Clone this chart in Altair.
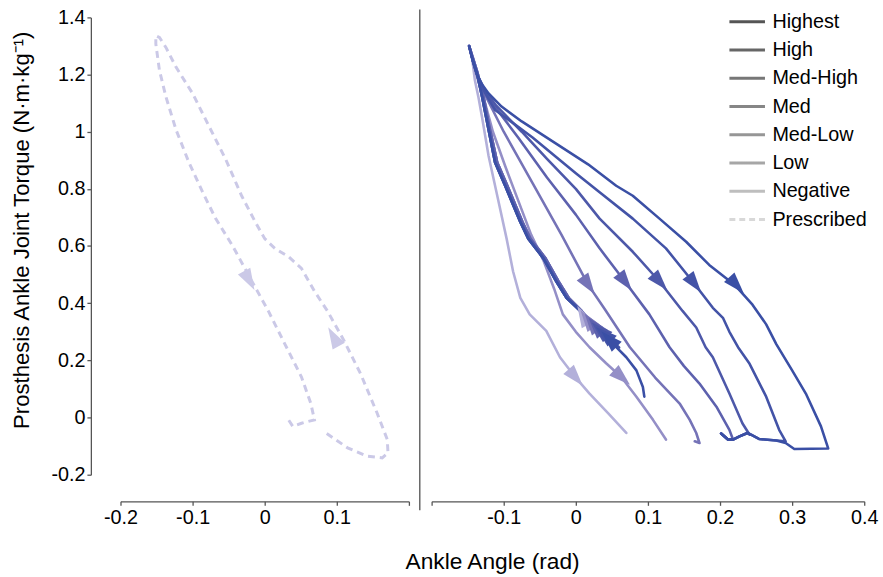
import math
import altair as alt
import pandas as pd

# ---------------- labels, colours ----------------
series_names = ["Highest", "High", "Med-High", "Med", "Med-Low", "Low", "Negative"]
series_colors = ["#3a4fa5", "#4353a7", "#4d58a9", "#5d61ae", "#7573b7", "#948fc7", "#b3b0da"]
legend_names = series_names + ["Prescribed"]
legend_grays = ["#555555", "#666666", "#777777", "#868686", "#969696", "#a6a6a6", "#bebebe", "#d8d8d8"]
prescribed_color = "#cbc9e7"

x_ticks_left = [-0.2, -0.1, 0, 0.1, 0.2]
x_ticks_right = [-0.2, -0.1, 0, 0.1, 0.2, 0.3, 0.4]
y_ticks = [-0.2, 0, 0.2, 0.4, 0.6, 0.8, 1, 1.2, 1.4]

# ---------------- left panel: prescribed loop ----------------
prescribed_x = [0.086, 0.115, 0.142, 0.163, 0.171, 0.170, 0.156, 0.133, 0.110, 0.087, 0.069, 0.051,
                0.033, 0.014, 0.000, -0.013, -0.032, -0.054, -0.077, -0.100, -0.123, -0.137, -0.146,
                -0.151, -0.151, -0.146, -0.137, -0.123, -0.105, -0.086, -0.068, -0.045, -0.018, 0.005,
                0.028, 0.051, 0.064, 0.069, 0.051, 0.039, 0.033]
prescribed_y = [-0.056, -0.106, -0.135, -0.141, -0.124, -0.077, 0.015, 0.153, 0.269, 0.373, 0.442, 0.522,
                0.563, 0.592, 0.626, 0.684, 0.776, 0.903, 1.018, 1.134, 1.226, 1.295, 1.330,
                1.336, 1.307, 1.215, 1.122, 1.007, 0.892, 0.788, 0.696, 0.603, 0.478, 0.373,
                0.257, 0.142, 0.049, -0.008, -0.020, -0.031, -0.008]
prescribed_arrow_x = [-0.022, 0.096]
prescribed_arrow_y = [0.482, 0.280]

# ---------------- right panel: measured loops ----------------
# rising branch (from heel region up to peak torque): darker loops / lighter loops
bundle_x = [0.006, -0.013, -0.027, -0.045, -0.066, -0.077, -0.098, -0.112, -0.121, -0.130, -0.137, -0.144, -0.148]
bundle_light_x = [0.008, -0.010, -0.024, -0.042, -0.063, -0.074, -0.095, -0.109, -0.119, -0.128, -0.136, -0.143, -0.148]
bundle_y = [0.373, 0.419, 0.476, 0.557, 0.626, 0.684, 0.811, 0.892, 1.007, 1.122, 1.203, 1.260, 1.300]
light_loops = ["Med", "Med-Low", "Low", "Negative"]

start_x = {
    "Highest": [0.095, 0.093, 0.084, 0.070, 0.052, 0.029],
    "High": [0.060, 0.045, 0.029],
    "Med-High": [0.050, 0.038, 0.025],
    "Med": [0.042, 0.030, 0.020],
    "Med-Low": [0.035, 0.022],
    "Low": [0.028, 0.015],
    "Negative": [0.020, 0.010],
}
start_y = {
    "Highest": [0.073, 0.107, 0.165, 0.211, 0.257, 0.315],
    "High": [0.245, 0.280, 0.315],
    "Med-High": [0.265, 0.295, 0.325],
    "Med": [0.280, 0.310, 0.340],
    "Med-Low": [0.290, 0.325],
    "Low": [0.300, 0.345],
    "Negative": [0.310, 0.355],
}
down_x = {
    "Highest": [-0.143, -0.137, -0.130, -0.121, -0.103, -0.075, -0.029, 0.017, 0.056, 0.079, 0.116, 0.153,
                0.185, 0.220, 0.245, 0.264, 0.278, 0.300, 0.319, 0.340, 0.350,
                0.303, 0.291, 0.278, 0.254, 0.243, 0.238, 0.227, 0.218, 0.211, 0.2015],
    "High": [-0.143, -0.137, -0.129, -0.120, -0.112, -0.087, -0.060, -0.029, 0.000, 0.033, 0.079, 0.125,
             0.162, 0.190, 0.204, 0.213, 0.225, 0.241, 0.264, 0.282, 0.291,
             0.278, 0.254, 0.243, 0.238, 0.227, 0.218, 0.211, 0.2015],
    "Med-High": [-0.143, -0.137, -0.128, -0.110, -0.075, -0.040, 0.000, 0.033, 0.079, 0.116, 0.148, 0.167,
                 0.180, 0.190, 0.213, 0.231, 0.241,
                 0.238, 0.227, 0.218, 0.211, 0.2015],
    "Med": [-0.143, -0.137, -0.128, -0.110, -0.080, -0.040, 0.000, 0.033, 0.068, 0.102, 0.130, 0.150,
            0.1715, 0.195, 0.213, 0.218, 0.211, 0.2015],
    "Med-Low": [-0.143, -0.137, -0.128, -0.100, -0.060, -0.020, 0.017, 0.040, 0.075, 0.110, 0.144, 0.158,
                0.167, 0.1715, 0.165],
    "Low": [-0.143, -0.138, -0.128, -0.115, -0.098, -0.080, -0.062, -0.045, -0.030, -0.018, 0.000, 0.019,
            0.042, 0.063, 0.084, 0.107, 0.125],
    "Negative": [-0.144, -0.140, -0.135, -0.130, -0.121, -0.107, -0.096, -0.087, -0.077, -0.064, -0.041,
                 -0.022, -0.001, 0.019, 0.045, 0.070],
}
down_y = {
    "Highest": [1.250, 1.200, 1.165, 1.134, 1.088, 1.036, 0.961, 0.886, 0.811, 0.776, 0.696, 0.615,
                0.534, 0.465, 0.395, 0.326, 0.257, 0.165, 0.084, -0.031, -0.108,
                -0.110, -0.089, -0.080, -0.075, -0.060, -0.054, -0.066, -0.077, -0.077, -0.056],
    "High": [1.250, 1.200, 1.150, 1.110, 1.076, 1.030, 0.980, 0.915, 0.855, 0.788, 0.696, 0.592,
             0.476, 0.384, 0.349, 0.300, 0.246, 0.188, 0.073, -0.043, -0.083,
             -0.080, -0.075, -0.060, -0.054, -0.066, -0.077, -0.077, -0.056],
    "Med-High": [1.250, 1.200, 1.150, 1.090, 1.000, 0.905, 0.800, 0.696, 0.580, 0.476, 0.373, 0.315,
                 0.246, 0.211, 0.084, -0.020, -0.060,
                 -0.054, -0.066, -0.077, -0.077, -0.056],
    "Med": [1.250, 1.200, 1.155, 1.080, 0.980, 0.840, 0.710, 0.592, 0.476, 0.361, 0.246, 0.180,
            0.119, 0.038, -0.043, -0.077, -0.077, -0.056],
    "Med-Low": [1.250, 1.200, 1.140, 1.000, 0.820, 0.640, 0.465, 0.380, 0.246, 0.140, 0.049, -0.008,
                -0.054, -0.089, -0.083],
    "Low": [1.250, 1.200, 1.120, 1.000, 0.880, 0.760, 0.640, 0.550, 0.450, 0.361, 0.300, 0.246,
            0.190, 0.142, 0.073, -0.008, -0.077],
    "Negative": [1.260, 1.180, 1.120, 1.050, 0.915, 0.753, 0.626, 0.511, 0.419, 0.361, 0.303,
                 0.211, 0.142, 0.084, 0.015, -0.054],
}
up_arrow_x = {"Highest": 0.047, "High": 0.040, "Med-High": 0.034, "Med": 0.028,
              "Med-Low": 0.022, "Low": 0.016, "Negative": 0.010}
up_arrow_y = {"Highest": 0.272, "High": 0.290, "Med-High": 0.305, "Med": 0.318,
              "Med-Low": 0.330, "Low": 0.342, "Negative": 0.355}
down_arrow_x = {"Highest": 0.222, "High": 0.164, "Med-High": 0.116, "Med": 0.068,
                "Med-Low": 0.017, "Low": 0.063, "Negative": -0.001}
down_arrow_y = {"Highest": 0.465, "High": 0.470, "Med-High": 0.476, "Med": 0.476,
                "Med-Low": 0.465, "Low": 0.142, "Negative": 0.142}

# ---------------- geometry ----------------
W_LEFT, W_RIGHT, H = 292, 438, 463
X_LEFT_DOMAIN = [-0.2, 0.2]
X_RIGHT_DOMAIN = [-0.2, 0.4]
Y_DOMAIN = [-0.2, 1.4]
SX = W_LEFT / (X_LEFT_DOMAIN[1] - X_LEFT_DOMAIN[0])
SY = H / (Y_DOMAIN[1] - Y_DOMAIN[0])
ARROW = "M0,-1L0.6,0.85L-0.6,0.85Z"
ARROW_SIZE = 560
FONT = "Liberation Sans"


def seg_angle(xs, ys, ax, ay):
    best = None
    px, py = ax * SX, -ay * SY
    for k in range(len(xs) - 1):
        x0, y0 = xs[k] * SX, -ys[k] * SY
        x1, y1 = xs[k + 1] * SX, -ys[k + 1] * SY
        dx, dy = x1 - x0, y1 - y0
        l2 = dx * dx + dy * dy
        if l2 == 0:
            continue
        t = max(0.0, min(1.0, ((px - x0) * dx + (py - y0) * dy) / l2))
        d = (x0 + t * dx - px) ** 2 + (y0 + t * dy - py) ** 2
        if best is None or d < best[0]:
            best = (d, dx, dy)
    _, dx, dy = best
    return math.degrees(math.atan2(dx, -dy)) % 360


# prescribed frames
pres_df = pd.DataFrame({"x": prescribed_x, "y": prescribed_y, "i": range(len(prescribed_x))})
pres_arrow_df = pd.DataFrame({
    "x": prescribed_arrow_x, "y": prescribed_arrow_y,
    "angle": [seg_angle(prescribed_x, prescribed_y, ax, ay)
              for ax, ay in zip(prescribed_arrow_x, prescribed_arrow_y)],
})

# measured frames
curve_frames = {}
arrow_rows = []
for name, col in zip(series_names, series_colors):
    bx = bundle_light_x if name in light_loops else bundle_x
    sx_part = start_x[name] + bx
    sy_part = start_y[name] + bundle_y
    xs = sx_part + down_x[name]
    ys = sy_part + down_y[name]
    curve_frames[name] = pd.DataFrame({"x": xs, "y": ys, "i": range(len(xs)), "color": col})
    arrow_rows.append({"x": up_arrow_x[name], "y": up_arrow_y[name], "color": col,
                       "angle": seg_angle(sx_part, sy_part, up_arrow_x[name], up_arrow_y[name])})
    dxs = [bx[-1]] + down_x[name]
    dys = [bundle_y[-1]] + down_y[name]
    arrow_rows.append({"x": down_arrow_x[name], "y": down_arrow_y[name], "color": col,
                       "angle": seg_angle(dxs, dys, down_arrow_x[name], down_arrow_y[name])})
# lightest first so the darkest arrows sit on top
arrow_df = pd.DataFrame(arrow_rows[::-1])

legend_df = pd.DataFrame({"series": legend_names, "x": [0.0] * len(legend_names), "y": [0.0] * len(legend_names)})

# ---------------- encodings ----------------
axis_common = dict(grid=False, domainColor="#555555", tickColor="#555555", domainWidth=1.3, tickWidth=1.3,
                   tickSize=4, labelFont=FONT, labelFontSize=20, labelColor="black", labelPadding=2,
                   labelFlush=False)

x_left = alt.X("x:Q", scale=alt.Scale(domain=X_LEFT_DOMAIN, nice=False, zero=False),
               axis=alt.Axis(values=x_ticks_left, offset=27, title=None,
                             labelExpr="datum.value > 0.15 ? '' : toString(datum.value)", **axis_common))
y_left = alt.Y("y:Q", scale=alt.Scale(domain=Y_DOMAIN, nice=False, zero=False),
               axis=alt.Axis(values=y_ticks, offset=30, labelExpr="toString(datum.value)",
                             title="Prosthesis Ankle Joint Torque (N·m·kg⁻¹)", titleFont=FONT,
                             titleFontSize=22.4, titleFontWeight="normal", titleColor="black",
                             titlePadding=18, titleY=215, **axis_common))
x_right = alt.X("x:Q", scale=alt.Scale(domain=X_RIGHT_DOMAIN, nice=False, zero=False),
                axis=alt.Axis(values=x_ticks_right, offset=27, title=None,
                              labelExpr="datum.value < -0.15 ? '' : toString(datum.value)", **axis_common))
y_right = alt.Y("y:Q", scale=alt.Scale(domain=Y_DOMAIN, nice=False, zero=False), axis=None)

# ---------------- left chart ----------------
left_line = alt.Chart(pres_df).mark_line(
    color=prescribed_color, strokeWidth=3, strokeDash=[7, 5]
).encode(x=x_left, y=y_left, order="i:Q")
left_arrows = alt.Chart(pres_arrow_df).mark_point(
    shape=ARROW, filled=True, size=ARROW_SIZE, opacity=1, color=prescribed_color, strokeWidth=0
).encode(x=x_left, y=y_left, angle=alt.Angle("angle:Q", scale=None))
left = alt.layer(left_line, left_arrows).properties(width=W_LEFT, height=H)

# ---------------- right chart ----------------
line_layers = []
for name in series_names[::-1]:
    line_layers.append(
        alt.Chart(curve_frames[name]).mark_line(strokeWidth=2.6, strokeJoin="round", strokeCap="round").encode(
            x=x_right, y=y_right, order="i:Q", color=alt.Color("color:N", scale=None)
        )
    )
right_arrows = alt.Chart(arrow_df).mark_point(
    shape=ARROW, filled=True, size=ARROW_SIZE, opacity=1, strokeWidth=0
).encode(x=x_right, y=y_right, color=alt.Color("color:N", scale=None),
         angle=alt.Angle("angle:Q", scale=None))

legend_def = alt.Legend(title=None, orient="none", legendX=308, legendY=-7,
                        symbolType="M-1.8,0H1.8", symbolSize=400, symbolStrokeWidth=3,
                        labelFont=FONT, labelFontSize=20, labelColor="black",
                        labelOffset=14, rowPadding=6.6)
legend_layer = alt.Chart(legend_df).mark_line(strokeWidth=3).encode(
    x=x_right, y=y_right,
    stroke=alt.Stroke("series:N", scale=alt.Scale(domain=legend_names, range=legend_grays), legend=legend_def),
    strokeDash=alt.StrokeDash("series:N",
                              scale=alt.Scale(domain=legend_names, range=[[1, 0]] * 7 + [[6, 4]]),
                              legend=legend_def),
)
separator = alt.Chart(pd.DataFrame({"k": [0]})).mark_rule(color="#666666", strokeWidth=1.5).encode(
    x=alt.value(-12), y=alt.value(-8), y2=alt.value(H + 36)
)
right = alt.layer(separator, *line_layers, right_arrows, legend_layer).properties(width=W_RIGHT, height=H)

chart = alt.hconcat(left, right, spacing=9).resolve_scale(
    x="independent", y="independent"
).resolve_legend(stroke="independent", strokeDash="independent").properties(
    title=alt.TitleParams("Ankle Angle (rad)", orient="bottom", anchor="middle", dx=49, offset=24,
                          fontSize=23, font=FONT, fontWeight="normal", color="black"),
    padding={"left": 10, "top": 4, "right": 5, "bottom": 5},
    background="white",
).configure_view(stroke="transparent", strokeWidth=0)

chart.save("out.html", embed_options={"renderer": "svg", "actions": False})
